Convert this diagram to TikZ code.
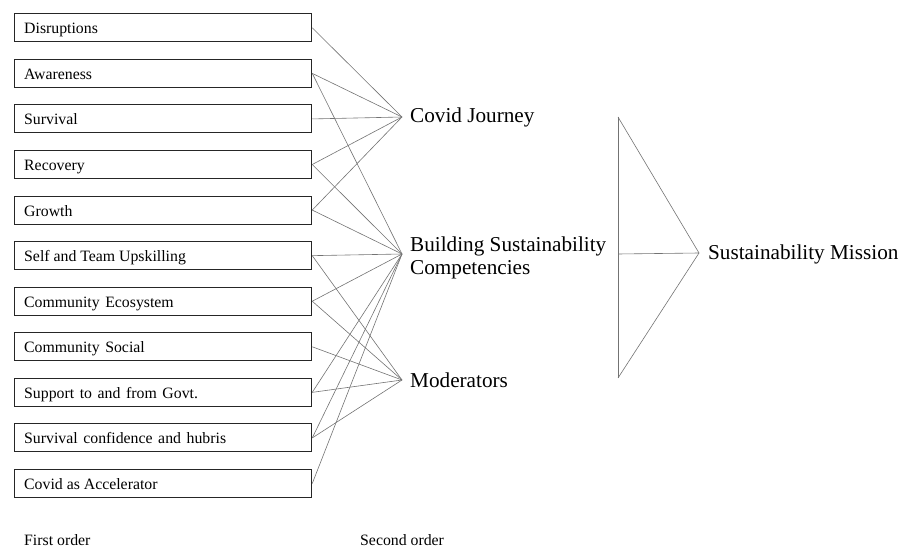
\documentclass[tikz,border=0pt]{standalone}
\usepackage{fontspec}
\setmainfont{Liberation Serif}
\newcommand{\wsp}{\hspace{5.6pt}}
\begin{document}
\begin{tikzpicture}[x=1pt,y=-1pt,
  item/.style={draw=black!85, line width=1.1pt, minimum height=28pt,
    minimum width=297pt, inner sep=0pt},
  itemtext/.style={anchor=base west, inner sep=0pt,
    font=\fontsize{15.8}{18}\selectfont},
  theme/.style={anchor=base west, inner sep=0pt, font=\fontsize{21.2}{22.3}\selectfont},
  caption/.style={anchor=base west, inner sep=0pt, font=\fontsize{15.8}{18}\selectfont},
  link/.style={draw=black!55, line width=0.6pt}]
\useasboundingbox (0,0) rectangle (902,548);

% first-order codes: a frame plus its left-set text
\foreach \n/\t [count=\i from 0] in {
  dis/Disruptions,
  awa/Awareness,
  sur/Survival,
  rec/Recovery,
  gro/Growth,
  sel/Self and Team Upskilling,
  eco/Community\wsp Ecosystem,
  soc/Community\wsp Social,
  gov/Support\wsp to\wsp and\wsp from\wsp Govt.,
  con/Survival\wsp confidence\wsp and\wsp hubris,
  acc/Covid as Accelerator}
{
  \node[item] (\n) at (163.2, 27.8+45.57*\i) {};
  \node[itemtext] (\n-t) at (24, 33.8+45.57*\i) {\t};
}

% second-order themes and their join points
\coordinate (cj) at (402,117);
\coordinate (bsc) at (402,254);
\coordinate (mod) at (402,380);
\node[theme] (cjt) at (410,123) {Covid Journey};
\node[theme] (bsct) at (410,251.7) {Building Sustainability};
\node[theme] (bsct2) at (410,274) {Competencies};
\node[theme] (modt) at (410,387) {Moderators};

% links to Covid Journey
\foreach \n in {dis,awa,sur,rec,gro}
  \draw[link] (\n.east) -- (cj);
% links to Building Sustainability Competencies
\foreach \n in {awa,rec,gro,sel,eco,gov,con,acc}
  \draw[link] (\n.east) -- (bsc);
% links to Moderators
\foreach \n in {sel,eco,soc,gov,con}
  \draw[link] (\n.east) -- (mod);

% aggregate dimension
\coordinate (top) at (618,117);
\coordinate (mid) at (618,254);
\coordinate (bot) at (618,378);
\coordinate (apex) at (699,253);
\draw[link] (top) -- (bot);
\draw[link] (top) -- (apex);
\draw[link] (bot) -- (apex);
\draw[link] (mid) -- (apex);
\node[theme] (sm) at (708,259) {Sustainability Mission};

% column captions
\node[caption] (fo) at (24,545.7) {First order};
\node[caption] (so) at (360,545.7) {Second order};
\end{tikzpicture}
\end{document}
